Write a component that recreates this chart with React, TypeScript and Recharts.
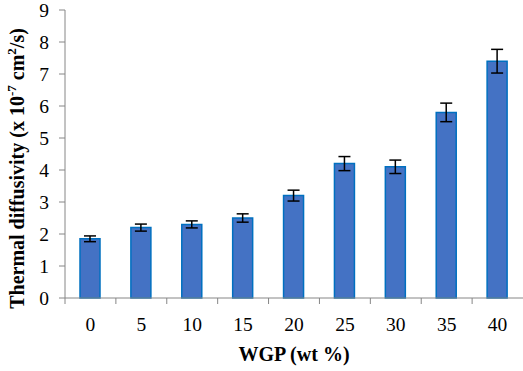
import React from 'react';
import { BarChart, Bar, XAxis, YAxis, ErrorBar } from 'recharts';

const categories = ['0', '5', '10', '15', '20', '25', '30', '35', '40'];
const diffusivity = [1.85, 2.2, 2.3, 2.5, 3.2, 4.2, 4.1, 5.8, 7.4];
const errors = [0.09, 0.11, 0.11, 0.13, 0.17, 0.22, 0.21, 0.29, 0.37];
const yTicks = [0, 1, 2, 3, 4, 5, 6, 7, 8, 9];

const data = categories.map((c, i) => ({ cat: c, val: diffusivity[i], err: errors[i] }));

const FONT = 'Liberation Serif';
const AXIS = '#868686';
const W = 523;
const H = 371;
const YW = 65;
const BAND = (W - YW) / categories.length;

const XTick = (props: any) => {
  const { x, y, payload } = props;
  const half = payload && typeof payload.offset === 'number' && payload.offset > 0 ? payload.offset : BAND / 2;
  return (
    <g>
      <line x1={x - half} x2={x - half} y1={y} y2={y + 6} stroke={AXIS} strokeWidth={1} />
      <text x={x} y={y + 33} textAnchor="middle" style={{ fontFamily: FONT, fontSize: 19.5 }} fill="#000">
        {payload.value}
      </text>
    </g>
  );
};

const YTick = (props: any) => {
  const { x, y, payload } = props;
  return (
    <text x={x} y={y} dy={6.5} textAnchor="end" style={{ fontFamily: FONT, fontSize: 19.5 }} fill="#000">
      {payload.value}
    </text>
  );
};

const YLabel = (props: any) => {
  const vb = props.viewBox || { y: 10, height: 288 };
  const cy = vb.y + vb.height / 2 + 14.5;
  const cx = 24;
  return (
    <text
      x={cx}
      y={cy}
      transform={`rotate(-90 ${cx} ${cy})`}
      textAnchor="middle"
      style={{ fontFamily: FONT, fontSize: 20, fontWeight: 'bold' }}
      fill="#000"
    >
      Thermal diffusivity (x 10
      <tspan dy={-8} style={{ fontSize: 13 }}>-7</tspan>
      <tspan dy={8}> cm</tspan>
      <tspan dy={-8} style={{ fontSize: 13 }}>2</tspan>
      <tspan dy={8}>/s)</tspan>
    </text>
  );
};

const XLabel = (props: any) => {
  const vb = props.viewBox || { x: 65, width: 458 };
  return (
    <text
      x={vb.x + vb.width / 2}
      y={361}
      textAnchor="middle"
      style={{ fontFamily: FONT, fontSize: 20, fontWeight: 'bold' }}
      fill="#000"
    >
      WGP (wt %)
    </text>
  );
};

export default function App() {
  return (
    <div style={{ position: 'absolute', left: 0, top: 0, width: W, height: H, background: '#fff', fontFamily: FONT }}>
      <BarChart width={W} height={H} data={data} margin={{ top: 10, right: 0, left: 0, bottom: 0 }}>
        <XAxis
          dataKey="cat"
          height={H - 10 - 288}
          tickLine={false}
          tickSize={0}
          tickMargin={0}
          axisLine={{ stroke: AXIS, strokeWidth: 1 }}
          tick={<XTick />}
          interval={0}
          label={{ content: <XLabel /> } as any}
        />
        <YAxis
          width={YW}
          domain={[0, 9]}
          ticks={yTicks}
          interval={0}
          axisLine={{ stroke: AXIS, strokeWidth: 1 }}
          tickLine={{ stroke: AXIS, strokeWidth: 1 }}
          tickSize={6}
          tickMargin={10}
          tick={<YTick />}
          label={{ content: <YLabel /> } as any}
        />
        <Bar dataKey="val" fill="#4472C4" stroke="#0070C0" strokeWidth={1.5} barSize={20} isAnimationActive={false}>
          <ErrorBar dataKey="err" width={6} stroke="#000" strokeWidth={1.5} />
        </Bar>
      </BarChart>
    </div>
  );
}
